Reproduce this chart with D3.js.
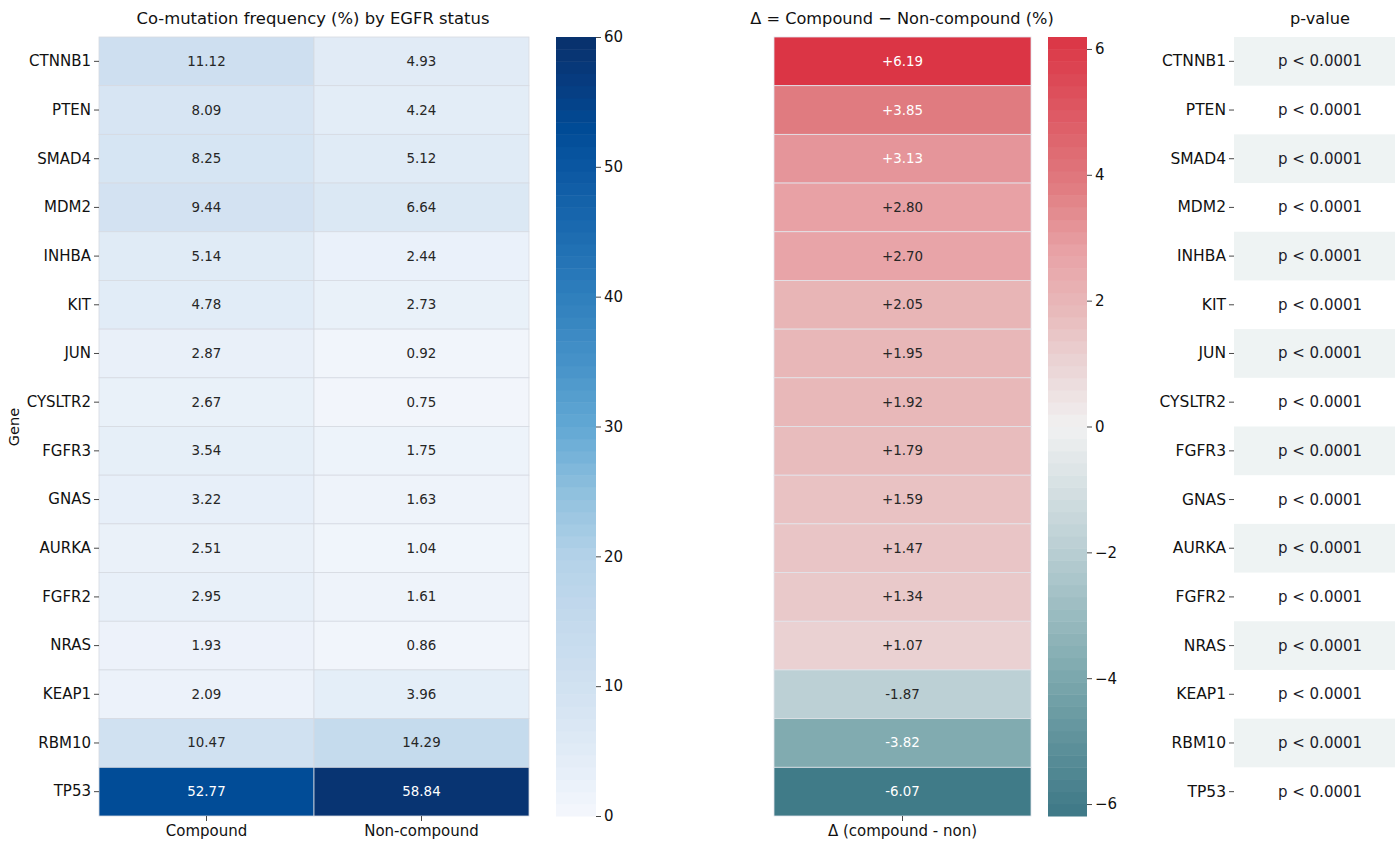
<!DOCTYPE html>
<html>
<head>
<meta charset="utf-8">
<script src="https://cdn.jsdelivr.net/npm/d3@7"></script>
<style>
  html, body { margin: 0; padding: 0; background: #fff; }
  svg { display: block; font-family: "DejaVu Sans", sans-serif; }
</style>
</head>
<body>
<svg id="chart" width="1395" height="841"></svg>
<script>
// Genes (rows, top to bottom)
const genes = ["CTNNB1", "PTEN", "SMAD4", "MDM2", "INHBA", "KIT", "JUN", "CYSLTR2",
               "FGFR3", "GNAS", "AURKA", "FGFR2", "NRAS", "KEAP1", "RBM10", "TP53"];
// Groups (columns of the frequency heatmap)
const groups = ["Compound", "Non-compound"];
// Co-mutation frequency (%) per gene
const compound    = [11.12, 8.09, 8.25, 9.44, 5.14, 4.78, 2.87, 2.67, 3.54, 3.22, 2.51, 2.95, 1.93, 2.09, 10.47, 52.77];
const nonCompound = [4.93, 4.24, 5.12, 6.64, 2.44, 2.73, 0.92, 0.75, 1.75, 1.63, 1.04, 1.61, 0.86, 3.96, 14.29, 58.84];
// Difference compound − non-compound (%)
const delta = [6.19, 3.85, 3.13, 2.80, 2.70, 2.05, 1.95, 1.92, 1.79, 1.59, 1.47, 1.34, 1.07, -1.87, -3.82, -6.07];
// Significance labels
const pLabels = genes.map(() => "p < 0.0001");
// Colour bar ticks
const freqTicks = [0, 10, 20, 30, 40, 50, 60];
const deltaTicks = [-6, -4, -2, 0, 2, 4, 6];

const svg = d3.select("#chart");
const yTop = 37, yBottom = 816;

// ---------- colour maps ----------
const bluesStops = [
  [0, "#f5f7fc"], [3, "#e8f0f9"], [6, "#dde9f5"], [9, "#d4e3f2"], [12, "#cbdeef"],
  [16, "#c1d8ec"], [20, "#b3d2e8"], [25, "#8fc0de"], [30, "#62a8d4"], [35, "#4692c8"],
  [40, "#2f7fbd"], [45, "#1c6bb0"], [50, "#0b57a2"], [53, "#004b96"], [56, "#073e83"], [60, "#08306b"]
];
const blues = d3.scaleLinear()
  .domain(bluesStops.map(d => d[0]))
  .range(bluesStops.map(d => d[1]))
  .interpolate(d3.interpolateRgb)
  .clamp(true);

const dmax = d3.max(delta, d => Math.abs(d));
const divStops = [
  [-1, "#3d7886"], [-0.62, "#80abb0"], [-0.30, "#bcd0d5"], [0, "#f1f1f1"],
  [0.17, "#ead2d3"], [0.31, "#e8b8b9"], [0.45, "#e8a2a6"], [0.62, "#e07b80"], [1, "#db3545"]
];
const diverging = d3.scaleLinear()
  .domain(divStops.map(d => d[0] * dmax))
  .range(divStops.map(d => d[1]))
  .interpolate(d3.interpolateRgb)
  .clamp(true);

// annotation colour chosen from cell luminance
function textColor(c) {
  const rgb = d3.rgb(c);
  const lin = v => { v /= 255; return v <= 0.03928 ? v / 12.92 : Math.pow((v + 0.055) / 1.055, 2.4); };
  const L = 0.2126 * lin(rgb.r) + 0.7152 * lin(rgb.g) + 0.0722 * lin(rgb.b);
  return L > 0.408 ? "#262626" : "#ffffff";
}

const y = d3.scaleBand().domain(genes).range([yTop, yBottom]).padding(0);

function styleAxis(g, fontSize) {
  g.select(".domain").remove();
  g.selectAll(".tick line").attr("stroke", "#333").attr("stroke-width", 0.9);
  g.selectAll(".tick text").attr("font-size", fontSize).attr("fill", "#111")
    .attr("font-family", "DejaVu Sans, sans-serif");
}

// ---------- panel 1: frequency heatmap ----------
const x1 = d3.scaleBand().domain(groups).range([99, 529]).padding(0);
const freqCells = [];
genes.forEach((g, i) => {
  freqCells.push({ gene: g, group: groups[0], v: compound[i] });
  freqCells.push({ gene: g, group: groups[1], v: nonCompound[i] });
});
const p1 = svg.append("g");
p1.selectAll("rect").data(freqCells).join("rect")
  .attr("x", d => x1(d.group)).attr("y", d => y(d.gene))
  .attr("width", x1.bandwidth()).attr("height", y.bandwidth())
  .attr("fill", d => blues(d.v))
  .attr("stroke", "#d6dae2").attr("stroke-width", 0.8);
p1.selectAll("text").data(freqCells).join("text")
  .attr("x", d => x1(d.group) + x1.bandwidth() / 2)
  .attr("y", d => y(d.gene) + y.bandwidth() / 2)
  .attr("text-anchor", "middle").attr("dominant-baseline", "central")
  .attr("font-size", 13.4)
  .attr("fill", d => textColor(blues(d.v)))
  .text(d => d.v.toFixed(2));

svg.append("g").attr("transform", "translate(99,0)")
  .call(d3.axisLeft(y).tickSize(5).tickPadding(3))
  .call(g => styleAxis(g, 15));
svg.append("g").attr("transform", `translate(0,${yBottom})`)
  .call(d3.axisBottom(x1).tickSize(5).tickPadding(4))
  .call(g => styleAxis(g, 15));

svg.append("text").attr("transform", "translate(19,427) rotate(-90)")
  .attr("text-anchor", "middle").attr("font-size", 14.5).attr("fill", "#111").text("Gene");
svg.append("text").attr("x", 313).attr("y", 24).attr("text-anchor", "middle")
  .attr("font-size", 16.4).attr("fill", "#111").text("Co-mutation frequency (%) by EGFR status");

// colour bar 1
const cb1 = d3.scaleLinear().domain([0, 60]).range([yBottom, yTop]);
const nb1 = 64;
const bands1 = d3.range(nb1).map(i => ({ lo: 60 * i / nb1, hi: 60 * (i + 1) / nb1 }));
svg.append("g").selectAll("rect").data(bands1).join("rect")
  .attr("x", 556).attr("width", 40)
  .attr("y", d => cb1(d.hi)).attr("height", d => cb1(d.lo) - cb1(d.hi) + 0.5)
  .attr("fill", d => blues((d.lo + d.hi) / 2));
svg.append("g").attr("transform", "translate(596,0)")
  .call(d3.axisRight(cb1).tickValues(freqTicks).tickSize(5).tickPadding(3))
  .call(g => styleAxis(g, 15));

// ---------- panel 2: difference heatmap ----------
const x2 = d3.scaleBand().domain(["Δ (compound - non)"]).range([774, 1031]);
const p2 = svg.append("g");
p2.selectAll("rect").data(delta).join("rect")
  .attr("x", x2.range()[0]).attr("y", (d, i) => y(genes[i]))
  .attr("width", x2.bandwidth()).attr("height", y.bandwidth())
  .attr("fill", d => diverging(d))
  .attr("stroke", "#e2e4ea").attr("stroke-width", 0.8);
p2.selectAll("text").data(delta).join("text")
  .attr("x", x2.range()[0] + x2.bandwidth() / 2)
  .attr("y", (d, i) => y(genes[i]) + y.bandwidth() / 2)
  .attr("text-anchor", "middle").attr("dominant-baseline", "central")
  .attr("font-size", 13.4)
  .attr("fill", d => textColor(diverging(d)))
  .text(d => (d > 0 ? "+" : "") + d.toFixed(2));
svg.append("g").attr("transform", `translate(0,${yBottom})`)
  .call(d3.axisBottom(x2).tickSize(5).tickPadding(4))
  .call(g => styleAxis(g, 15));
svg.append("text").attr("x", 902).attr("y", 24).attr("text-anchor", "middle")
  .attr("font-size", 16.2).attr("fill", "#111").text("Δ = Compound − Non-compound (%)");

// colour bar 2
const cb2 = d3.scaleLinear().domain([-dmax, dmax]).range([yBottom, yTop]);
const nb2 = 64;
const bands2 = d3.range(nb2).map(i => ({ lo: -dmax + 2 * dmax * i / nb2, hi: -dmax + 2 * dmax * (i + 1) / nb2 }));
svg.append("g").selectAll("rect").data(bands2).join("rect")
  .attr("x", 1048).attr("width", 39)
  .attr("y", d => cb2(d.hi)).attr("height", d => cb2(d.lo) - cb2(d.hi) + 0.5)
  .attr("fill", d => diverging((d.lo + d.hi) / 2));
svg.append("g").attr("transform", "translate(1087,0)")
  .call(d3.axisRight(cb2).tickValues(deltaTicks).tickSize(5).tickPadding(3))
  .call(g => styleAxis(g, 15));

// ---------- panel 3: p-values ----------
const p3 = svg.append("g");
p3.selectAll("rect").data(genes.filter((g, i) => i % 2 === 0)).join("rect")
  .attr("x", 1234).attr("y", d => y(d))
  .attr("width", 172).attr("height", y.bandwidth())
  .attr("fill", "#eef3f3");
p3.selectAll("text").data(pLabels).join("text")
  .attr("x", 1320).attr("y", (d, i) => y(genes[i]) + y.bandwidth() / 2)
  .attr("text-anchor", "middle").attr("dominant-baseline", "central")
  .attr("font-size", 15).attr("fill", "#1c1c2a")
  .text(d => d);
svg.append("g").attr("transform", "translate(1234,0)")
  .call(d3.axisLeft(y).tickSize(5).tickPadding(3))
  .call(g => styleAxis(g, 15.5));
svg.append("text").attr("x", 1320).attr("y", 24).attr("text-anchor", "middle")
  .attr("font-size", 16.2).attr("fill", "#111").text("p-value");
</script>
</body>
</html>
